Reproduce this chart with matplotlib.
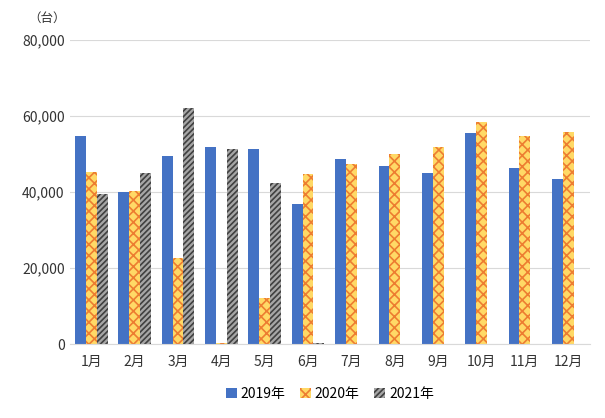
import numpy as np
import matplotlib.pyplot as plt

plt.rcParams['font.family'] = ['Noto Sans CJK JP', 'DejaVu Sans']
plt.rcParams['hatch.linewidth'] = 1.2

months = ['1月', '2月', '3月', '4月', '5月', '6月', '7月', '8月', '9月', '10月', '11月', '12月']
y2019 = [54700, 40000, 49500, 51800, 51300, 36800, 48700, 46800, 45000, 55500, 46300, 43400]
y2020 = [45300, 40300, 22600, 200, 12100, 44700, 47400, 50000, 51800, 58400, 54700, 55800]
y2021 = [39500, 45000, 62100, 51300, 42400, 300, 0, 0, 0, 0, 0, 0]

fig, ax = plt.subplots(figsize=(6.05, 4.18), dpi=100)
plt.subplots_adjust(left=0.115, right=0.975, top=0.904, bottom=0.177)

x = np.arange(len(months))
w = 0.25
ax.bar(x - w, y2019, w, color='#4472C4', label='2019年')
ax.bar(x, y2020, w, color='#FFD966', edgecolor='#ED7D31', hatch='xxx', linewidth=0, label='2020年')
ax.bar(x + w, y2021, w, color='#A6A6A6', edgecolor='#404040', hatch='//////', linewidth=0, label='2021年')

ax.set_ylim(0, 80000)
ax.set_xlim(-0.5, len(months) - 0.5)
ax.set_yticks(range(0, 80001, 20000))
ax.set_yticklabels(['{:,}'.format(v) for v in range(0, 80001, 20000)])
ax.set_xticks(x)
ax.set_xticklabels(months)
ax.yaxis.grid(True, color='#D9D9D9', linewidth=0.8)
ax.set_axisbelow(True)
for s in ['top', 'right', 'left']:
    ax.spines[s].set_visible(False)
ax.spines['bottom'].set_color('#D9D9D9')
ax.tick_params(length=0, labelsize=10, colors='#333333')
ax.tick_params(axis='x', pad=8)
ax.text(-0.08, 1.06, '（台）', transform=ax.transAxes, fontsize=9, color='#333333')
ax.legend(loc='upper center', bbox_to_anchor=(0.5, -0.1), ncol=3, frameon=False,
          fontsize=10, handlelength=0.8, handleheight=0.8, columnspacing=1.0, handletextpad=0.3)

plt.savefig('out.png')
